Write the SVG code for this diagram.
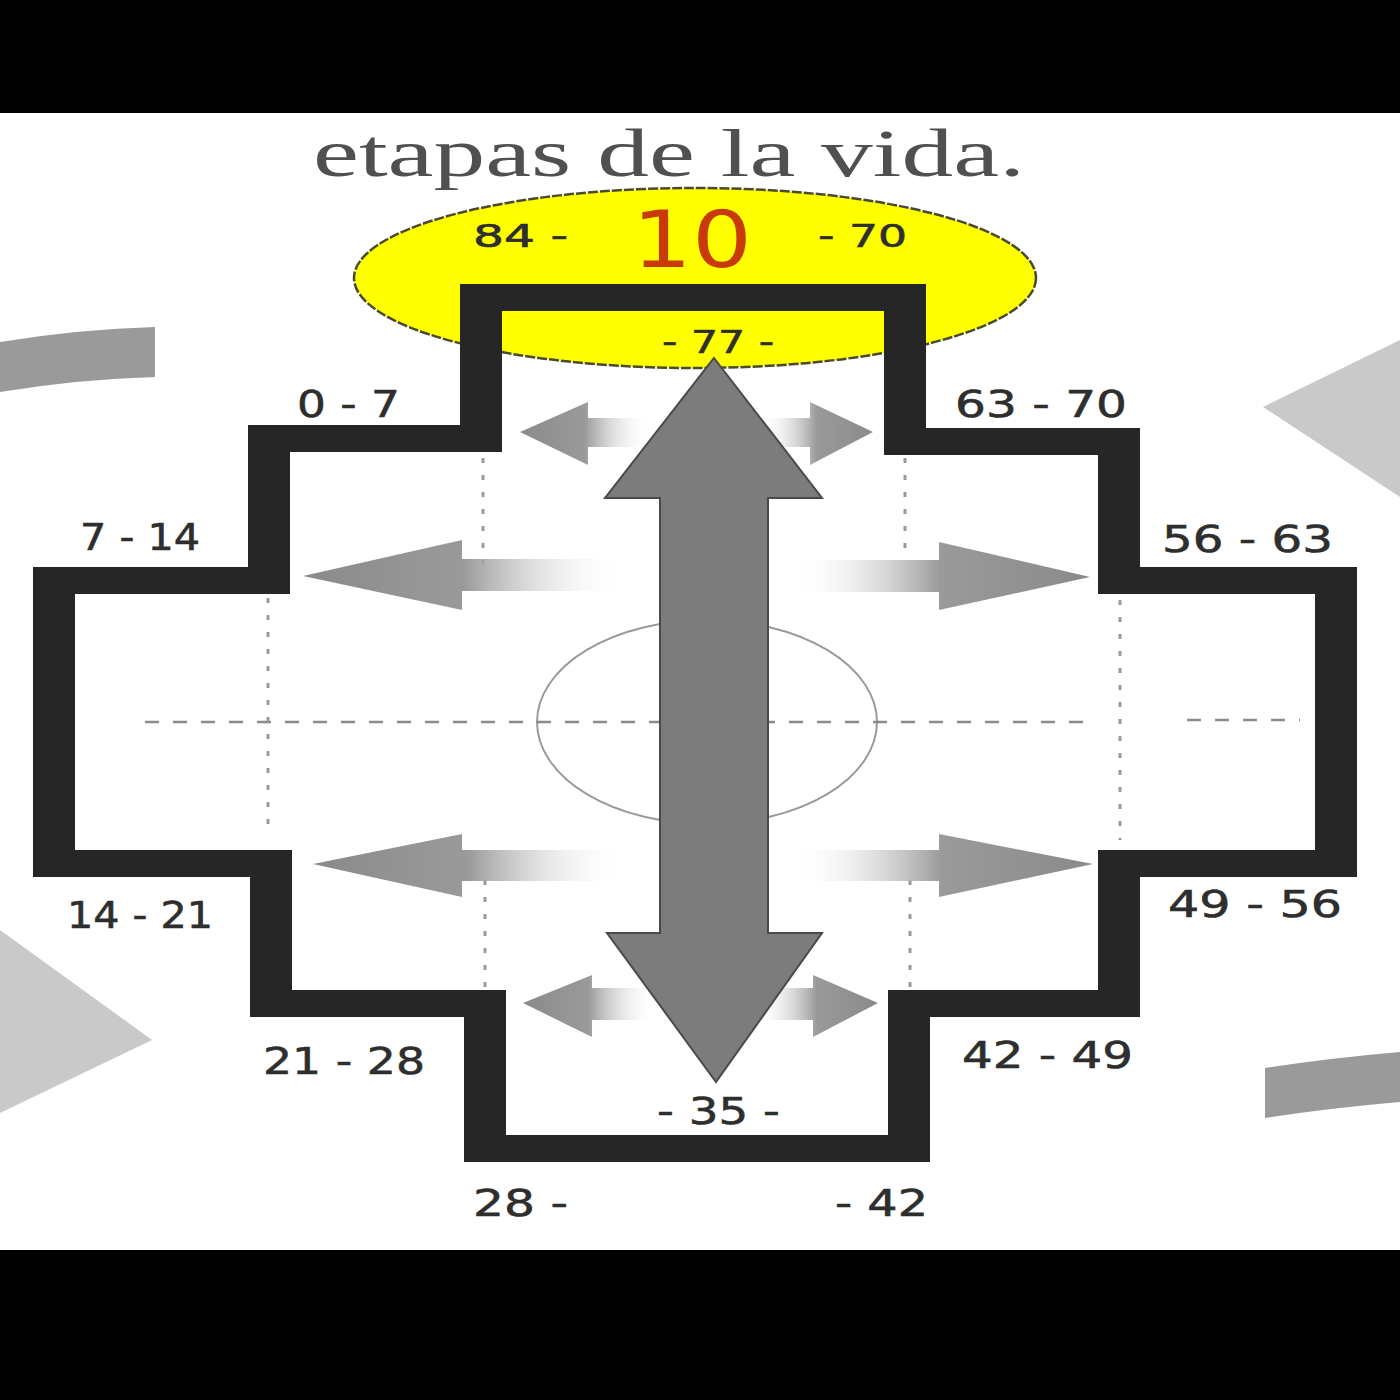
<svg xmlns="http://www.w3.org/2000/svg" width="1400" height="1400" viewBox="0 0 1400 1400">
<style>
.lbl{font-family:"DejaVu Sans","Liberation Sans",sans-serif;font-size:38px;fill:#2e2e2e;stroke:#2e2e2e;stroke-width:0.6}
.sm{font-size:32px}
.dash{fill:none;stroke:#8a8a8a;stroke-width:2.5;stroke-dasharray:14 14}
.dot{fill:none;stroke:#9a9a9a;stroke-width:3;stroke-dasharray:5 12}
.deco{fill:#c9c9c9}
.band{fill:#9a9a9a}
</style>
<defs>
<linearGradient id="gL" x1="0" y1="0" x2="1" y2="0">
<stop offset="0" stop-color="#8a8a8a"/><stop offset="0.5" stop-color="#9a9a9a"/><stop offset="1" stop-color="#ffffff" stop-opacity="0"/>
</linearGradient>
<linearGradient id="gR" x1="1" y1="0" x2="0" y2="0">
<stop offset="0" stop-color="#8a8a8a"/><stop offset="0.5" stop-color="#9a9a9a"/><stop offset="1" stop-color="#ffffff" stop-opacity="0"/>
</linearGradient>
</defs>
<rect x="0" y="0" width="1400" height="1400" fill="#ffffff"/>
<rect x="0" y="0" width="1400" height="113" fill="#000"/>
<rect x="0" y="1250" width="1400" height="150" fill="#000"/>

<g id="decorations">
<path class="band" d="M0,342 Q80,329 155,327 L155,377 Q80,379 0,392 Z"/>
<path class="band" d="M1265,1068 Q1330,1058 1400,1052 L1400,1102 Q1330,1108 1265,1118 Z"/>
<polygon class="deco" points="1263,407 1400,340 1400,497"/>
<polygon class="deco" points="152,1040 0,930 0,1113"/>
</g>

<g id="title">
<text x="313" y="176" font-family="Liberation Serif, serif" font-size="68" fill="#505050" textLength="712" lengthAdjust="spacingAndGlyphs">etapas de la vida.</text>
</g>

<g id="sun">
<ellipse cx="695" cy="278" rx="341" ry="90" fill="#ffff00" stroke="#4a4a30" stroke-width="2.5" stroke-dasharray="10 2"/>
<text class="lbl sm" x="473" y="247" textLength="95" lengthAdjust="spacingAndGlyphs">84 -</text>
<text x="632" y="267" font-family="DejaVu Sans, sans-serif" font-size="78" fill="#c83a08" textLength="120" lengthAdjust="spacingAndGlyphs">10</text>
<text class="lbl sm" x="818" y="247" textLength="89" lengthAdjust="spacingAndGlyphs">- 70</text>
<text class="lbl sm" x="662" y="353" textLength="112" lengthAdjust="spacingAndGlyphs">- 77 -</text>
</g>

<g id="guides">
<ellipse cx="707" cy="722" rx="170" ry="102" fill="none" stroke="#9a9a9a" stroke-width="2"/>
<line class="dash" x1="145" y1="722" x2="1088" y2="722"/>
<line class="dash" x1="1187" y1="720" x2="1300" y2="720"/>
<line class="dot" x1="483" y1="458" x2="483" y2="568"/>
<line class="dot" x1="905" y1="458" x2="905" y2="560"/>
<line class="dot" x1="268" y1="598" x2="268" y2="830"/>
<line class="dot" x1="1120" y1="600" x2="1120" y2="840"/>
<line class="dot" x1="485" y1="880" x2="485" y2="990"/>
<line class="dot" x1="910" y1="880" x2="910" y2="990"/>
</g>

<g id="connectors">
<polygon fill="url(#gL)" points="520,432 588,402 588,418 650,418 650,447 588,447 588,465"/>
<polygon fill="url(#gR)" points="873,432 810,402 810,418 760,418 760,447 810,447 810,465"/>
<polygon fill="url(#gL)" points="303,576 462,540 462,559 625,559 625,591 462,591 462,610"/>
<polygon fill="url(#gR)" points="1090,577 939,542 939,560 790,560 790,592 939,592 939,610"/>
<polygon fill="url(#gL)" points="313,864 462,834 462,850 625,850 625,881 462,881 462,897"/>
<polygon fill="url(#gR)" points="1093,864 939,834 939,850 790,850 790,881 939,881 939,897"/>
<polygon fill="url(#gL)" points="523,1003 592,975 592,988 655,988 655,1020 592,1020 592,1037"/>
<polygon fill="url(#gR)" points="878,1003 813,975 813,988 755,988 755,1020 813,1020 813,1037"/>
<path id="axis-arrow" d="M714,358 L822,498 L768,498 L768,933 L822,933 L716,1082 L607,933 L660,933 L660,498 L605,498 Z" fill="#7c7c7c" stroke="#4a4a4a" stroke-width="2"/>
</g>

<g id="chakana">
<path fill="#262626" fill-rule="evenodd" d="M460,284 L926,284 L926,428 L1140,428 L1140,567 L1357,567 L1357,877 L1140,877 L1140,1017 L930,1017 L930,1162 L464,1162 L464,1017 L250,1017 L250,877 L33,877 L33,567 L248,567 L248,425 L460,425 Z M502,311 L884,311 L884,455 L1098,455 L1098,594 L1315,594 L1315,850 L1098,850 L1098,990 L888,990 L888,1135 L506,1135 L506,990 L292,990 L292,850 L75,850 L75,594 L290,594 L290,452 L502,452 Z"/>
</g>

<g id="labels">
<text class="lbl" x="297" y="417" textLength="103" lengthAdjust="spacingAndGlyphs">0 - 7</text>
<text class="lbl" x="80" y="550" textLength="120" lengthAdjust="spacingAndGlyphs">7 - 14</text>
<text class="lbl" x="955" y="417" textLength="172" lengthAdjust="spacingAndGlyphs">63 - 70</text>
<text class="lbl" x="1162" y="552" textLength="171" lengthAdjust="spacingAndGlyphs">56 - 63</text>
<text class="lbl" x="67" y="928" textLength="146" lengthAdjust="spacingAndGlyphs">14 - 21</text>
<text class="lbl" x="263" y="1074" textLength="162" lengthAdjust="spacingAndGlyphs">21 - 28</text>
<text class="lbl" x="473" y="1216" textLength="95" lengthAdjust="spacingAndGlyphs">28 -</text>
<text class="lbl" x="835" y="1216" textLength="93" lengthAdjust="spacingAndGlyphs">- 42</text>
<text class="lbl" x="962" y="1068" textLength="171" lengthAdjust="spacingAndGlyphs">42 - 49</text>
<text class="lbl" x="1168" y="917" textLength="174" lengthAdjust="spacingAndGlyphs">49 - 56</text>
<text class="lbl" x="657" y="1124" textLength="123" lengthAdjust="spacingAndGlyphs">- 35 -</text>
</g>
</svg>
